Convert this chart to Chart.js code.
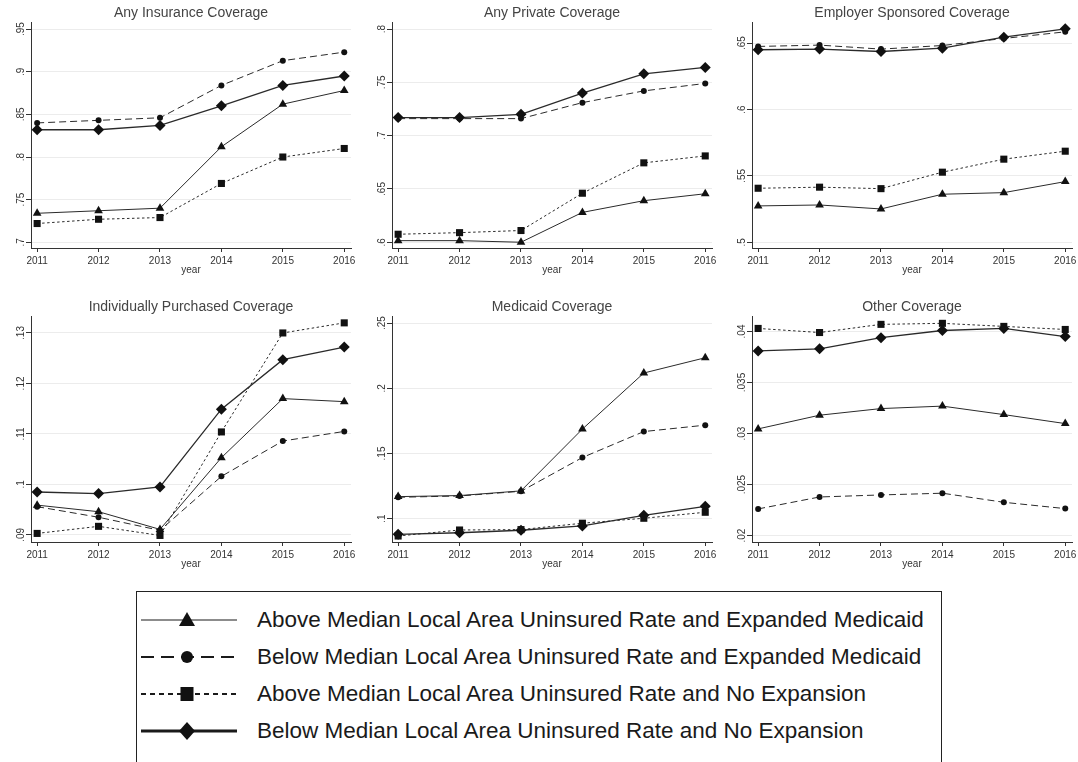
<!DOCTYPE html>
<html>
<head>
<meta charset="utf-8">
<script src="https://cdn.jsdelivr.net/npm/chart.js@4.4.0/dist/chart.umd.min.js"></script>
<style>
  html, body { margin: 0; padding: 0; background: #fff; width: 1078px; height: 762px; overflow: hidden; }
  canvas { position: absolute; }
  #legend { position: absolute; left: 136px; top: 591px; width: 806px; height: 200px;
            border: 1px solid #222; box-sizing: border-box; }
  .key { position: absolute; }
  .keyText { position: absolute; font-family: "Liberation Sans", Arial, sans-serif;
             font-size: 22.5px; color: #1a1a1a; white-space: nowrap; line-height: 26px; }
</style>
</head>
<body>
<canvas id="p0"></canvas>
<canvas id="p1"></canvas>
<canvas id="p2"></canvas>
<canvas id="p3"></canvas>
<canvas id="p4"></canvas>
<canvas id="p5"></canvas>
<div id="legend"></div>
<script>
const years = [2011, 2012, 2013, 2014, 2015, 2016];

const seriesNames = [
  "Above Median Local Area Uninsured Rate and Expanded Medicaid",
  "Below Median Local Area Uninsured Rate and Expanded Medicaid",
  "Above Median Local Area Uninsured Rate and No Expansion",
  "Below Median Local Area Uninsured Rate and No Expansion"
];

const panelTitles = [
  "Any Insurance Coverage", "Any Private Coverage", "Employer Sponsored Coverage",
  "Individually Purchased Coverage", "Medicaid Coverage", "Other Coverage"
];

// order of rows: above/expanded, below/expanded, above/no exp, below/no exp
const anyInsurance = [
  [.734, .737, .740, .812, .862, .878],
  [.840, .843, .846, .884, .913, .923],
  [.722, .727, .729, .769, .800, .810],
  [.832, .832, .837, .860, .884, .895]
];
const anyPrivate = [
  [.6015, .6015, .600, .628, .639, .6455],
  [.716, .716, .716, .731, .742, .749],
  [.6075, .609, .611, .646, .6745, .681],
  [.717, .717, .720, .740, .758, .764]
];
const employer = [
  [.5274, .5281, .5251, .5362, .5374, .5457],
  [.6475, .6485, .6455, .6482, .6535, .6585],
  [.5407, .5415, .5404, .5528, .5626, .5686],
  [.645, .6455, .6437, .6462, .6545, .6608]
];
const individual = [
  [.0959, .0946, .0911, .1053, .1170, .1164],
  [.0956, .0935, .0909, .1016, .1086, .1105],
  [.0903, .0917, .0899, .1104, .1300, .1320],
  [.0985, .0982, .0995, .1149, .1247, .1272]
];
const medicaid = [
  [.1169, .1177, .1213, .1687, .2117, .2234],
  [.1164, .1174, .1210, .1469, .1668, .1717],
  [.0867, .0913, .0916, .0965, .1003, .1049],
  [.0880, .0892, .0911, .0944, .1026, .1095]
];
const other = [
  [.03046, .0318, .03245, .03269, .03186, .03098],
  [.02262, .02379, .02399, .02416, .02327, .02265],
  [.0403, .0399, .0407, .0408, .0405, .0402],
  [.0381, .0383, .0394, .0401, .0403, .0395]
];

const ticksAnyInsurance = [.7, .75, .8, .85, .9, .95];
const ticksAnyPrivate = [.6, .65, .7, .75, .8];
const ticksEmployer = [.5, .55, .6, .65];
const ticksIndividual = [.09, .1, .11, .12, .13];
const ticksMedicaid = [.1, .15, .2, .25];
const ticksOther = [.02, .025, .03, .035, .04];

const panelData = [anyInsurance, anyPrivate, employer, individual, medicaid, other];
const panelTicks = [ticksAnyInsurance, ticksAnyPrivate, ticksEmployer, ticksIndividual, ticksMedicaid, ticksOther];

// axis ranges so the plot areas line up with the reference
const yRange = [[.6933, .9574], [.5946, .8059], [.4957, .6653],
                [.0886, .1332], [.0821, .2548], [.01938, .04144]];
// chart area left edge, canvas top
const boxes = [[31, 0], [392, 0], [752, 0], [31, 294], [392, 294], [752, 294]];

const FONT = '"Liberation Sans", Arial, sans-serif';
const LINE = "#2a2a2a";
const MARK = "#111";

const lineStyles = [
  { dash: [], width: 1, point: "triangle", r: 5 },
  { dash: [7, 4], width: 1, point: "circle", r: 3 },
  { dash: [2.5, 2.5], width: 1, point: "rect", r: 5 },
  { dash: [], width: 1.3, point: "rectRot", r: 5.5 }
];

// stata style y labels, rotated and without leading zero
const yLabelPlugin = {
  id: "yLabels",
  afterDraw(chart) {
    const s = chart.scales.y;
    const ctx = chart.ctx;
    ctx.save();
    ctx.fillStyle = "#333";
    ctx.font = "10px " + FONT;
    ctx.textAlign = "center";
    ctx.textBaseline = "alphabetic";
    s.ticks.forEach(function (t) {
      const y = s.getPixelForValue(t.value);
      ctx.save();
      ctx.translate(chart.chartArea.left - 7, y);
      ctx.rotate(-Math.PI / 2);
      ctx.fillText(String(t.value).replace(/^0/, ""), 0, 0);
      ctx.restore();
    });
    ctx.restore();
  }
};

function makePanel(i) {
  const canvas = document.getElementById("p" + i);
  const left = boxes[i][0], top = boxes[i][1];
  const w = 30 + 320 + 12;
  const h = 248 + 28;
  canvas.width = w;
  canvas.height = h;
  canvas.style.left = (left - 30) + "px";
  canvas.style.top = top + "px";
  canvas.style.width = w + "px";
  canvas.style.height = h + "px";

  const datasets = panelData[i].map(function (vals, k) {
    const st = lineStyles[k];
    return {
      label: seriesNames[k],
      data: years.map(function (yr, j) { return { x: yr, y: vals[j] }; }),
      borderColor: LINE,
      borderWidth: st.width,
      borderDash: st.dash,
      pointStyle: st.point,
      pointRadius: st.r,
      pointBackgroundColor: MARK,
      pointBorderColor: MARK,
      pointBorderWidth: 0,
      tension: 0,
      clip: false
    };
  });

  const ticks = panelTicks[i];

  new Chart(canvas, {
    type: "line",
    data: { datasets: datasets },
    options: {
      responsive: false,
      animation: false,
      devicePixelRatio: 1,
      layout: { padding: { left: 0, right: 12, top: 0, bottom: 0 } },
      plugins: {
        legend: { display: false },
        tooltip: { enabled: false },
        title: {
          display: true,
          text: panelTitles[i],
          fullSize: false,
          color: "#444",
          font: { family: FONT, size: 14, weight: "normal" },
          padding: { top: 5, bottom: 1 }
        }
      },
      scales: {
        x: {
          type: "linear",
          min: 2010.9,
          max: 2016.11,
          afterBuildTicks: function (s) { s.ticks = years.map(function (v) { return { value: v }; }); },
          afterFit: function (s) { s.height = 28; },
          ticks: {
            callback: function (v) { return String(v); },
            color: "#333",
            font: { family: FONT, size: 10 },
            padding: 3,
            maxRotation: 0
          },
          grid: { drawOnChartArea: false, tickLength: 4, tickColor: "#333" },
          border: { display: true, color: "#333", width: 1 },
          title: { display: true, text: "year", color: "#333", font: { family: FONT, size: 10 }, padding: 0 }
        },
        y: {
          min: yRange[i][0],
          max: yRange[i][1],
          afterBuildTicks: function (s) { s.ticks = ticks.map(function (v) { return { value: v }; }); },
          afterFit: function (s) { s.width = 30; },
          ticks: { display: false },
          grid: { color: "#ececec", tickLength: 5, tickColor: "#333" },
          border: { display: true, color: "#333", width: 1 }
        }
      }
    },
    plugins: [yLabelPlugin]
  });
}

for (let i = 0; i < 6; i++) makePanel(i);

// legend
const legendRows = [620, 657, 694, 731];
const legendKeys = [
  { dash: "", width: 1.2 },
  { dash: "13 7", width: 2 },
  { dash: "5 4", width: 2 },
  { dash: "", width: 3 }
];

function markerSvg(k, cx, cy) {
  if (k === 0) return '<polygon points="' + (cx - 8) + ',' + (cy + 6) + ' ' + (cx + 8) + ',' + (cy + 6) + ' ' + cx + ',' + (cy - 8) + '" fill="#111"/>';
  if (k === 1) return '<circle cx="' + cx + '" cy="' + cy + '" r="6" fill="#111"/>';
  if (k === 2) return '<rect x="' + (cx - 6.5) + '" y="' + (cy - 7) + '" width="13" height="14" fill="#111"/>';
  return '<polygon points="' + cx + ',' + (cy - 9) + ' ' + (cx + 8) + ',' + cy + ' ' + cx + ',' + (cy + 9) + ' ' + (cx - 8) + ',' + cy + '" fill="#111"/>';
}

const body = document.body;
seriesNames.forEach(function (name, k) {
  const y = legendRows[k];
  const key = document.createElement("div");
  key.className = "key";
  key.style.left = "141px";
  key.style.top = (y - 15) + "px";
  const st = legendKeys[k];
  key.innerHTML = '<svg width="98" height="30" xmlns="http://www.w3.org/2000/svg">' +
    '<line x1="0" y1="15" x2="96" y2="15" stroke="#1a1a1a" stroke-width="' + st.width + '"' +
    (st.dash ? ' stroke-dasharray="' + st.dash + '"' : '') + '/>' +
    markerSvg(k, 46, 15) + '</svg>';
  body.appendChild(key);

  const txt = document.createElement("div");
  txt.className = "keyText";
  txt.style.left = "257px";
  txt.style.top = (y - 13) + "px";
  txt.textContent = name;
  body.appendChild(txt);
});
</script>
</body>
</html>
